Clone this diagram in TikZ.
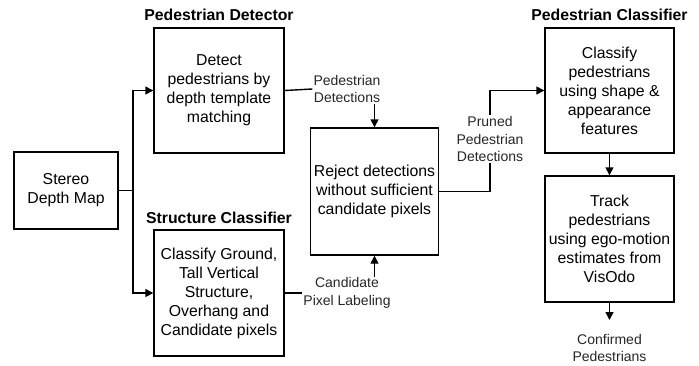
\documentclass[tikz,border=0pt]{standalone}
\usepackage{fontspec}
\setmainfont{Liberation Sans}
\usetikzlibrary{arrows.meta}

\tikzset{
  procbox/.style={draw, line width=1.4pt, inner sep=0pt, align=center,
    font=\fontsize{15.8}{19}\selectfont},
  boxtitle/.style={inner sep=0pt, font=\fontsize{15.8}{19}\selectfont\bfseries},
  flowlabel/.style={inner sep=1pt, align=center, text=black!85,
    font=\fontsize{14}{17.5}\selectfont},
  wire/.style={line width=1.4pt},
  flow/.style={wire, -{Triangle[length=8pt,width=8pt]}}
}

\begin{document}
\begin{tikzpicture}[x=1pt,y=-1pt]
\useasboundingbox (0,0) rectangle (699,365);

% processing blocks
\node[procbox, minimum width=104pt, minimum height=77pt] (stereo) at (66,190.5)
  {Stereo\\Depth Map};
\node[procbox, minimum width=130pt, minimum height=125pt] (detector) at (219,90.5)
  {Detect\\pedestrians by\\depth template\\matching};
\node[procbox, minimum width=130pt, minimum height=126pt] (structure) at (219,293)
  {Classify Ground,\\Tall Vertical\\Structure,\\Overhang and\\Candidate pixels};
\node[procbox, minimum width=128pt, minimum height=127pt] (reject) at (374.5,191.5)
  {Reject detections\\without sufficient\\candidate pixels};
\node[procbox, minimum width=129pt, minimum height=125pt] (classifier) at (609.5,90.5)
  {Classify\\pedestrians\\using shape \&\\appearance\\features};
\node[procbox, minimum width=129pt, minimum height=126pt] (track) at (609.5,239)
  {Track\\pedestrians\\using ego-motion\\estimates from\\VisOdo};

% block titles
\node[boxtitle] (dettitle) at (219,15) {Pedestrian Detector};
\node[boxtitle] (strtitle) at (219,218) {Structure Classifier};
\node[boxtitle] (clstitle) at (609.5,15) {Pedestrian Classifier};

% connector labels
\node[flowlabel] (pdlab) at (347,89) {Pedestrian\\Detections};
\node[flowlabel] (cplab) at (347,293) {Candidate\\Pixel Labeling};
\node[flowlabel] (prlab) at (490,139) {Pruned\\Pedestrian\\Detections};
\node[flowlabel] (cflab) at (609.5,348) {Confirmed\\Pedestrians};

% depth map fan-out
\coordinate (split) at (133,190.5);
\draw[wire] (stereo.east) -- (split);
\draw[flow] (split) |- (detector.west);
\draw[flow] (split) |- (structure.west);

% detections and pixel labels into the rejection step
\draw[wire] (detector.east) -- (pdlab.west);
\draw[flow] (reject.north |- pdlab.south) -- (reject.north);
\draw[wire] (structure.east) -- (cplab.west);
\draw[flow] (reject.south |- cplab.north) -- (reject.south);

% pruned detections to the classifier
\draw[wire] (reject.east) -| (prlab.south);
\draw[flow] (prlab.north) |- (classifier.west);

% classifier to tracker to output
\draw[flow] (classifier.south) -- (track.north);
\coordinate (cfend) at (609.5,320);
\draw[flow] (track.south) -- (cfend);
\end{tikzpicture}
\end{document}
